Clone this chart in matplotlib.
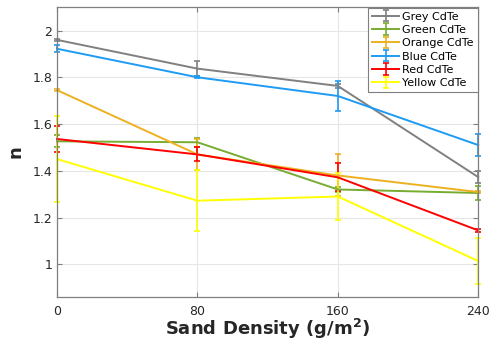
import numpy as np
import matplotlib.pyplot as plt

density = [0, 80, 160, 240]

labels = ['Grey CdTe', 'Green CdTe', 'Orange CdTe', 'Blue CdTe', 'Red CdTe', 'Yellow CdTe']
colors = ['#808080', '#77AC30', '#EDB120', '#1E9BF5', '#FF0000', '#FFFF00']

n_grey = [1.960, 1.837, 1.763, 1.373]
n_green = [1.526, 1.522, 1.320, 1.305]
n_orange = [1.745, 1.470, 1.380, 1.309]
n_blue = [1.922, 1.800, 1.720, 1.510]
n_red = [1.536, 1.470, 1.372, 1.145]
n_yellow = [1.450, 1.272, 1.290, 1.014]

err_grey = [0.005, 0.033, 0.008, 0.025]
err_green = [0.025, 0.020, 0.012, 0.030]
err_orange = [0.005, 0.065, 0.090, 0.005]
err_blue = [0.015, 0.005, 0.066, 0.047]
err_red = [0.055, 0.030, 0.060, 0.005]
err_yellow = [0.185, 0.130, 0.100, 0.100]

series = [n_grey, n_green, n_orange, n_blue, n_red, n_yellow]
errors = [err_grey, err_green, err_orange, err_blue, err_red, err_yellow]

fig = plt.figure(figsize=(4.92, 3.41), dpi=100)
ax = fig.add_axes([0.116, 0.129, 0.856, 0.850])

for y, e, c, lab in zip(series, errors, colors, labels):
    line, caps, bars = ax.errorbar(density, y, yerr=e, color=c, lw=1.4, elinewidth=1.2,
                                   capsize=2.5, capthick=1.2, label=lab)
    # let the bars at the first and last density spill over the axes edge
    for art in [line, *caps, *bars]:
        art.set_clip_on(False)

ax.set_xlim(0, 240)
ax.set_ylim(0.86, 2.1)
ax.set_xticks(density)
ax.set_yticks([1, 1.2, 1.4, 1.6, 1.8, 2])
ax.set_yticklabels(['1', '1.2', '1.4', '1.6', '1.8', '2'])
ax.grid(True, color='#e6e6e6', lw=0.8)
ax.set_axisbelow(True)

for s in ax.spines.values():
    s.set_color('#7f7f7f')
    s.set_linewidth(0.9)
ax.tick_params(direction='in', top=True, right=True, colors='#7f7f7f',
               labelcolor='#262626', labelsize=9, length=3.5)
ax.tick_params(axis='x', pad=6)

ax.set_xlabel('Sand Density (g/m$^{\\bf 2}$)', fontsize=13, fontweight='bold',
              color='#262626', labelpad=-1)
ax.set_ylabel('n', fontsize=13, fontweight='bold', color='#262626', labelpad=6)

leg = ax.legend(loc='upper right', fontsize=8, fancybox=False, framealpha=1,
                edgecolor='#7f7f7f', borderaxespad=0.05, handlelength=2.4,
                handletextpad=0.3, labelspacing=0.3, borderpad=0.35)
leg.get_frame().set_linewidth(0.8)

fig.savefig('out.png', dpi=100)
